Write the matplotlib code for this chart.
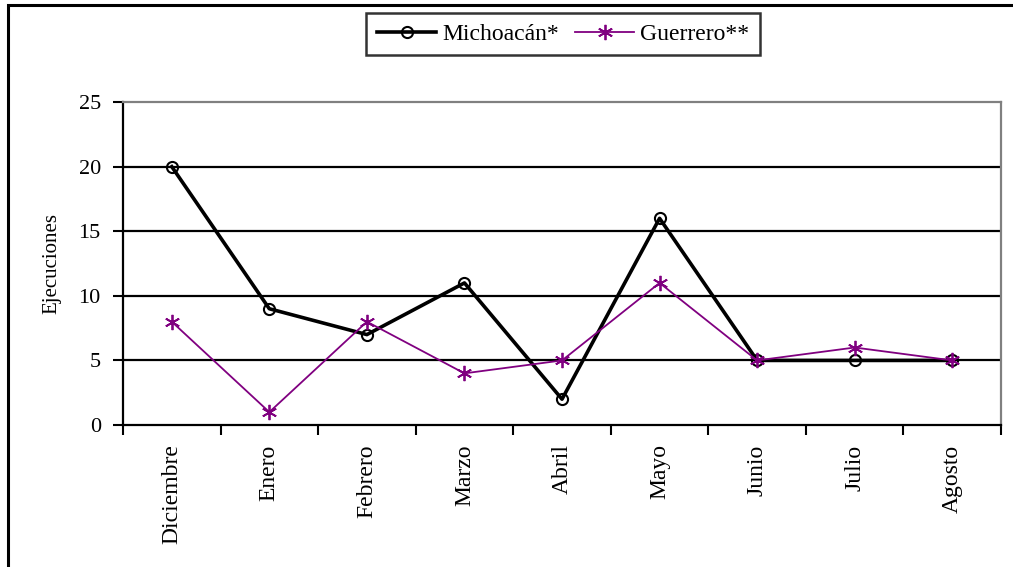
from matplotlib import pyplot as plt
from matplotlib.patches import Rectangle
import numpy as np

meses = ['Diciembre', 'Enero', 'Febrero', 'Marzo', 'Abril', 'Mayo', 'Junio', 'Julio', 'Agosto']
michoacan = [20, 9, 7, 11, 2, 16, 5, 5, 5]
guerrero = [8, 1, 8, 4, 5, 11, 5, 6, 5]
y_ticks = [0, 5, 10, 15, 20, 25]

plt.rcParams['font.family'] = ['Liberation Serif', 'DejaVu Serif']

fig = plt.figure(figsize=(10.13, 5.67), dpi=100)
ax = fig.add_axes([0.1214, 0.2504, 0.8668, 0.5696])

x = np.arange(len(meses))
for yv in y_ticks[1:-1]:
    ax.axhline(yv, color='black', lw=1.6, zorder=1)

ax.plot(x, michoacan, color='black', lw=2.6, marker='o', ms=8,
        mfc='none', mec='black', mew=1.5, label='Michoacán*', zorder=3)
ax.plot(x, guerrero, color='#800080', lw=1.3, marker=(6, 2, 0), ms=11,
        mec='#800080', mew=1.3, label='Guerrero**', zorder=4)

ax.set_xlim(-0.5, len(meses) - 0.5)
ax.set_ylim(0, 25)
ax.set_yticks(y_ticks)
ax.set_xticks(x)
ax.set_xticklabels(meses, rotation=90, fontsize=17)
ax.set_xticks(np.arange(len(meses) + 1) - 0.5, minor=True)
ax.tick_params(axis='x', which='major', length=0, pad=14)
ax.tick_params(axis='x', which='minor', length=7, width=1.5, direction='out')
ax.tick_params(axis='y', length=7, width=1.5, labelsize=16, pad=9)
ax.set_ylabel('Ejecuciones', fontsize=15, labelpad=12)

for s in ['left', 'bottom']:
    ax.spines[s].set_linewidth(1.6)
    ax.spines[s].set_color('black')
for s in ['top', 'right']:
    ax.spines[s].set_linewidth(1.6)
    ax.spines[s].set_color('#808080')

leg = fig.legend(loc='center', bbox_to_anchor=(0.556, 0.94), ncol=2,
                 fontsize=17, frameon=True, fancybox=False, handlelength=2.5,
                 columnspacing=0.7, handletextpad=0.25, borderpad=0.45)
leg.get_frame().set_edgecolor('black')
leg.get_frame().set_linewidth(1.8)

fig.patches.append(Rectangle((0.0079, -0.1), 1.2, 1.091, transform=fig.transFigure,
                             fill=False, edgecolor='black', lw=2.2))

plt.savefig('out.png', dpi=100)
